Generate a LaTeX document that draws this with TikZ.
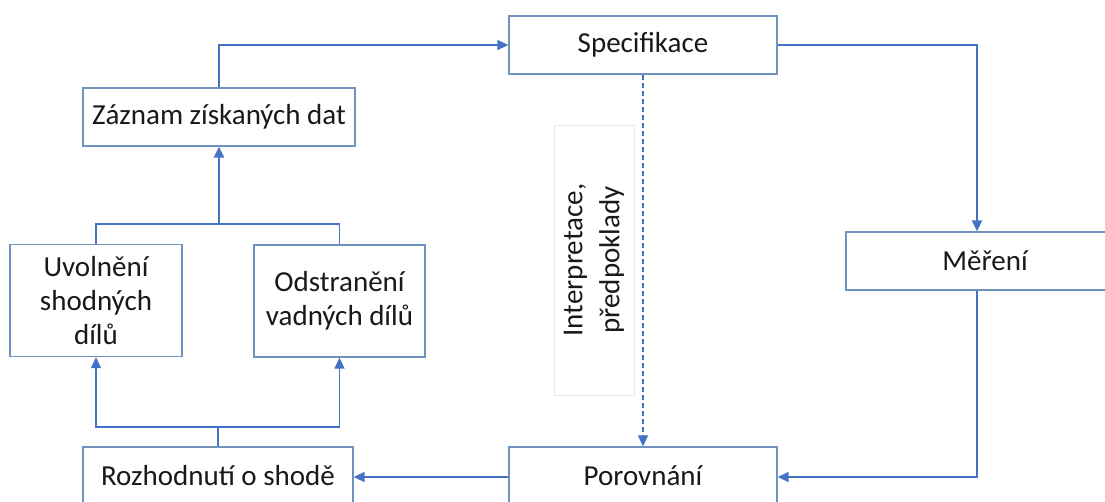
\documentclass[tikz,border=0pt]{standalone}
\usepackage{fontspec}
\setmainfont{Carlito}
\usetikzlibrary{arrows.meta}
\definecolor{lnblue}{RGB}{68,114,196}
\definecolor{bxblue}{RGB}{112,146,190}
\definecolor{faintbx}{RGB}{228,232,240}
\begin{document}
\begin{tikzpicture}[x=1pt,y=-1pt,
  box/.style={draw=bxblue, line width=1.3pt, fill=white, inner sep=0pt, align=center,
    font=\fontsize{29}{34}\selectfont, text=black!90},
  boxtext/.style={font=\fontsize{29}{34}\selectfont, text=black!90},
  conn/.style={draw=lnblue, line width=1.5pt, -{Triangle[length=11pt,width=10pt]}},
  plain/.style={draw=lnblue, line width=1.5pt}]
\useasboundingbox (0,0) rectangle (1105,502);
\fill[white] (0,0) rectangle (1105,502);
\node[box, minimum width=268pt, minimum height=58pt] (spec) at (643,45) {Specifikace};
\node[box, minimum width=272pt, minimum height=58pt] (zaz) at (219,117) {Záznam získaných dat};
\node[box, minimum width=172pt, minimum height=112pt] (uvo) at (96,300.5) {Uvolnění\\shodných\\dílů};
\node[box, minimum width=171pt, minimum height=112pt] (ods) at (339.5,301) {Odstranění\\vadných dílů};
\node[box, minimum width=270pt, minimum height=60pt] (roz) at (218,477) {};
\node[boxtext] (rozt) at (218,476) {Rozhodnutí o shodě};
\node[box, minimum width=268pt, minimum height=60pt] (por) at (643,477) {};
\node[boxtext] (port) at (643,476) {Porovnání};
\node[box, minimum width=262pt, minimum height=58pt] (mer) at (977,261) {};
\node[boxtext] (mert) at (985,261) {Měření};
\node[draw=faintbx, line width=0.8pt, minimum width=80pt, minimum height=270pt, inner sep=0pt] (lab) at (594,260) {};
\node[rotate=90, align=center, font=\fontsize{29}{37}\selectfont, text=black!90] (labt) at (lab.center) {Interpretace,\\předpoklady};
\draw[conn] (zaz.north) |- (spec.west);
\draw[conn] (spec.east) -| (mer.north);
\draw[conn] (mer.south) |- (por.east);
\draw[conn] (por.west) -- (roz.east);
\draw[conn, dashed, dash pattern=on 5pt off 3pt, line width=1.2pt] (spec.south) -- (por.north);
\coordinate (j1) at (218,427);
\draw[plain] (roz.north) -- (j1);
\draw[conn] (j1) -| (uvo.south);
\draw[conn] (j1) -| (ods.south);
\coordinate (j2) at (219,224);
\draw[plain] (uvo.north) -- (uvo.north |- j2) -- (ods.north |- j2) -- (ods.north);
\draw[conn, line width=2.5pt] (j2) -- (zaz.south);
\end{tikzpicture}
\end{document}
